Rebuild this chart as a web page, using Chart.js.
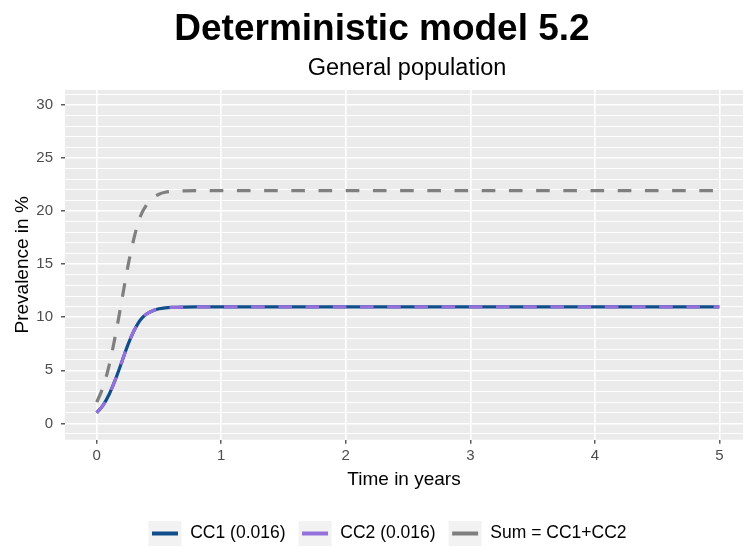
<!DOCTYPE html>
<html>
<head>
<meta charset="utf-8">
<title>Deterministic model 5.2</title>
<script src="https://cdn.jsdelivr.net/npm/chart.js@4.4.1/dist/chart.umd.min.js"></script>
<style>
    html, body { margin: 0; padding: 0; background: #ffffff; }
    #chart { display: block; }
</style>
</head>
<body>
<canvas id="chart" width="743" height="548"></canvas>
<script>
// --- data ---
const chartTitle = "Deterministic model 5.2";
const chartSubtitle = "General population";

const years = [0, 0.05, 0.1, 0.15, 0.2, 0.25, 0.3, 0.35, 0.4, 0.45, 0.5, 0.55, 0.6, 0.7, 0.8, 1, 2, 3, 4, 5];
const cc1 = [1.00, 1.70, 2.75, 4.15, 5.75, 7.40, 8.75, 9.75, 10.30, 10.62, 10.80, 10.89, 10.93, 10.96, 10.97, 10.97, 10.97, 10.97, 10.97, 10.97];
const cc2 = [1.00, 1.70, 2.75, 4.15, 5.75, 7.40, 8.75, 9.75, 10.30, 10.62, 10.80, 10.89, 10.93, 10.96, 10.97, 10.97, 10.97, 10.97, 10.97, 10.97];
const sumCC = [2.00, 3.40, 5.50, 8.30, 11.50, 14.80, 17.50, 19.50, 20.60, 21.24, 21.60, 21.78, 21.86, 21.92, 21.94, 21.94, 21.94, 21.94, 21.94, 21.94];

const seriesNames = ["CC1 (0.016)", "CC2 (0.016)", "Sum = CC1+CC2"];
const seriesColors = ["#104E8B", "#9370DB", "#7F7F7F"];

const xTicks = [0, 1, 2, 3, 4, 5];
const yTicks = [0, 5, 10, 15, 20, 25, 30];
const yMinorGrid = [];
for (let v = -1; v <= 31; v++) yMinorGrid.push(v);

function toPoints(xs, ys) {
    return xs.map((x, i) => ({ x: x, y: ys[i] }));
}

Chart.defaults.font.family = '"Liberation Sans", Arial, sans-serif';

// grey panel behind the grid, headings, and coloured bars on the legend keys
const panelPlugin = {
    id: "panel",
    afterLayout(chart) {
        // legend sits a bit right of the canvas centre
        const lg = chart.legend;
        if (lg) { lg.left += 16; lg.right += 16; }
    },
    beforeDraw(chart) {
        const { ctx, chartArea } = chart;
        ctx.save();
        ctx.fillStyle = "#EBEBEB";
        ctx.fillRect(chartArea.left, chartArea.top, chartArea.right - chartArea.left, chartArea.bottom - chartArea.top);

        ctx.fillStyle = "#000000";
        ctx.textAlign = "center";
        ctx.textBaseline = "alphabetic";
        ctx.font = 'bold 37px "Liberation Sans", Arial, sans-serif';
        ctx.fillText(chartTitle, 382, 40);
        ctx.font = '23.5px "Liberation Sans", Arial, sans-serif';
        ctx.fillText(chartSubtitle, 407, 75);
        ctx.restore();
    },
    afterDraw(chart) {
        const boxes = chart.legend && chart.legend.legendHitBoxes;
        if (!boxes) return;
        const ctx = chart.ctx;
        ctx.save();
        boxes.forEach((b, i) => {
            ctx.fillStyle = seriesColors[i];
            ctx.fillRect(b.left + 3.5, b.top + 10.5, 26, 4);
        });
        ctx.restore();
    }
};

const ctx = document.getElementById("chart").getContext("2d");

new Chart(ctx, {
    type: "line",
    data: {
        datasets: [
            {
                label: seriesNames[0],
                data: toPoints(years, cc1),
                borderColor: seriesColors[0],
                borderWidth: 3.2,
                order: 3
            },
            {
                label: seriesNames[1],
                data: toPoints(years, cc2),
                borderColor: seriesColors[1],
                borderWidth: 3.2,
                borderDash: [13.6, 13.6],
                order: 2
            },
            {
                label: seriesNames[2],
                data: toPoints(years, sumCC),
                borderColor: seriesColors[2],
                borderWidth: 3.2,
                borderDash: [13.6, 13.6],
                order: 1
            }
        ]
    },
    options: {
        responsive: false,
        animation: false,
        events: [],
        layout: { padding: { top: 90, left: 0, right: 0, bottom: -8 } },
        elements: {
            point: { radius: 0 },
            line: { cubicInterpolationMode: "monotone", borderCapStyle: "butt", fill: false }
        },
        scales: {
            x: {
                type: "linear",
                min: -0.255,
                max: 5.19,
                afterBuildTicks: s => { s.ticks = xTicks.map(v => ({ value: v })); },
                afterFit: s => { s.height = 68.3; },
                border: { display: false },
                grid: {
                    color: "#FFFFFF",
                    lineWidth: 1.6,
                    drawTicks: true,
                    tickLength: 4,
                    tickColor: "#333333",
                    tickWidth: 1.2
                },
                ticks: {
                    color: "#4D4D4D",
                    font: { size: 15 },
                    padding: 3,
                    autoSkip: false,
                    maxRotation: 0
                },
                title: {
                    display: true,
                    text: "Time in years",
                    color: "#000000",
                    font: { size: 19 },
                    padding: { top: 0, bottom: 16.6 }
                }
            },
            y: {
                type: "linear",
                min: -1.54,
                max: 31.42,
                afterBuildTicks: s => { s.ticks = yMinorGrid.map(v => ({ value: v })); },
                afterFit: s => { s.width = 65; },
                border: { display: false },
                grid: {
                    color: "#FFFFFF",
                    lineWidth: c => (yTicks.includes(c.tick.value) ? 1.6 : 1.0),
                    drawTicks: true,
                    tickLength: 4,
                    tickColor: c => (yTicks.includes(c.tick.value) ? "#333333" : "rgba(0,0,0,0)"),
                    tickWidth: 1.2
                },
                ticks: {
                    color: "#4D4D4D",
                    font: { size: 15 },
                    padding: 8,
                    autoSkip: false,
                    callback: v => (yTicks.includes(v) ? String(v) : "")
                },
                title: {
                    display: true,
                    text: "Prevalence in %",
                    color: "#000000",
                    font: { size: 19 },
                    padding: { top: 11, bottom: 0 }
                }
            }
        },
        plugins: {
            title: { display: false },
            tooltip: { enabled: false },
            legend: {
                display: true,
                position: "bottom",
                align: "center",
                labels: {
                    boxWidth: 33,
                    boxHeight: 25,
                    padding: 13,
                    color: "#000000",
                    font: { size: 17.5 },
                    generateLabels: chart => chart.data.datasets.map((ds, i) => ({
                        text: ds.label,
                        fillStyle: "#F2F2F2",
                        strokeStyle: "rgba(0,0,0,0)",
                        lineWidth: 0,
                        hidden: false,
                        datasetIndex: i
                    }))
                }
            }
        }
    },
    plugins: [panelPlugin]
});
</script>
</body>
</html>
